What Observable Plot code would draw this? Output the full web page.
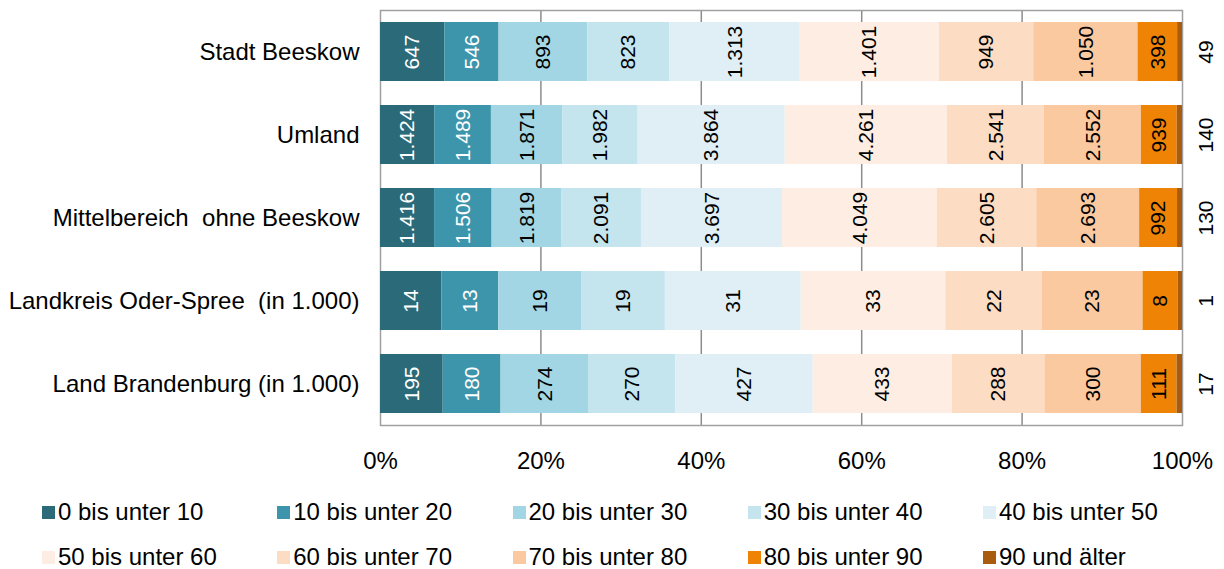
<!DOCTYPE html>
<html>
<head>
<meta charset="utf-8">
<script src="https://cdn.jsdelivr.net/npm/d3@7"></script>
<script src="https://cdn.jsdelivr.net/npm/@observablehq/plot@0.6"></script>
<style>
  body { margin: 0; background: #fff; font-family: "Liberation Sans", Arial, sans-serif; }
  #legend { position: relative; width: 1224px; height: 79px; }
  .item { position: absolute; display: flex; align-items: center; font-size: 24px; color: #000; white-space: nowrap; line-height: 28px; }
  .sw { width: 13px; height: 13px; margin-right: 3px; }
</style>
</head>
<body>
<div id="chart"></div>
<div id="legend"></div>
<script>
const regions = [
  "Stadt Beeskow",
  "Umland",
  "Mittelbereich\u00a0 ohne Beeskow",
  "Landkreis Oder-Spree\u00a0 (in 1.000)",
  "Land Brandenburg (in 1.000)"
];
const groups = [
  "0 bis unter 10", "10 bis unter 20", "20 bis unter 30", "30 bis unter 40", "40 bis unter 50",
  "50 bis unter 60", "60 bis unter 70", "70 bis unter 80", "80 bis unter 90", "90 und älter"
];
const colors = ["#2a6a79", "#3d95ab", "#a3d6e4", "#c4e4ee", "#e0eff6",
                "#fdede2", "#fcdcc2", "#fbc9a0", "#ee8306", "#a95c0d"];
const stadtBeeskow = [647, 546, 893, 823, 1313, 1401, 949, 1050, 398, 49];
const umland = [1424, 1489, 1871, 1982, 3864, 4261, 2541, 2552, 939, 140];
const mittelbereich = [1416, 1506, 1819, 2091, 3697, 4049, 2605, 2693, 992, 130];
const landkreis = [14, 13, 19, 19, 31, 33, 22, 23, 8, 1];
const brandenburg = [195, 180, 274, 270, 427, 433, 288, 300, 111, 17];
const xTicks = [0, 0.2, 0.4, 0.6, 0.8, 1];

const series = [stadtBeeskow, umland, mittelbereich, landkreis, brandenburg];
const data = [];
regions.forEach((r, i) => groups.forEach((g, j) => data.push({region: r, group: g, gi: j, value: series[i][j]})));

const de = d3.formatLocale({decimal: ",", thousands: ".", grouping: [3], currency: ["", " €"]});
const fmt = de.format(",d");
const last = groups[groups.length - 1];
const font = "Liberation Sans, Arial, sans-serif";

const chart = Plot.plot({
  width: 1224,
  height: 490,
  marginLeft: 380,
  marginRight: 42,
  marginTop: 10,
  marginBottom: 65,
  style: {fontFamily: font, color: "#000", background: "#fff"},
  x: {domain: [0, 1]},
  y: {domain: regions, paddingInner: 0.29, paddingOuter: 0.145},
  color: {domain: groups, range: colors},
  marks: [
    Plot.gridX(xTicks.slice(1, -1), {stroke: "#8c8c8c", strokeOpacity: 1, strokeWidth: 1.5}),
    Plot.frame({stroke: "#a0a0a0", strokeWidth: 1.5}),
    Plot.barX(data, Plot.stackX({offset: "normalize", x: "value", y: "region", fill: "group", order: groups})),
    Plot.text(data, Plot.stackX({
      offset: "normalize", x: "value", y: "region", z: "group", order: groups,
      text: d => d.group === last ? null : fmt(d.value),
      rotate: -90, fontSize: 21,
      fill: d => d.gi < 2 ? "#fff" : "#000"
    })),
    Plot.text(data.filter(d => d.group === last), {
      x: () => 1, y: "region", text: d => fmt(d.value), rotate: -90, fontSize: 21, dx: 24, fill: "#000"
    }),
    Plot.axisX({ticks: xTicks, tickFormat: d3.format(".0%"), tickSize: 0, tickPadding: 26, fontSize: 24, label: null}),
    Plot.axisY({tickSize: 0, tickPadding: 21, fontSize: 24, label: null})
  ]
});
document.getElementById("chart").append(chart);

const legend = document.getElementById("legend");
groups.forEach((g, i) => {
  const row = Math.floor(i / 5), col = i % 5;
  const el = document.createElement("div");
  el.className = "item";
  el.style.left = (42 + col * 235.25) + "px";
  el.style.top = (8 + row * 45) + "px";
  el.innerHTML = `<span class="sw" style="background:${colors[i]}"></span><span>${g}</span>`;
  legend.append(el);
});
</script>
</body>
</html>
